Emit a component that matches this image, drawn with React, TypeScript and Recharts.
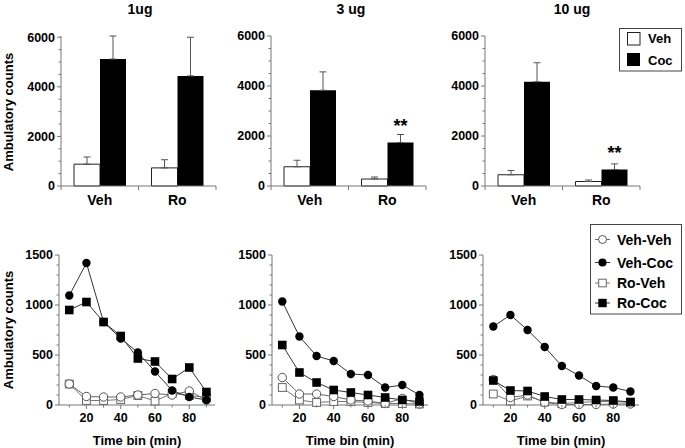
import { BarChart, Bar, XAxis, YAxis, ErrorBar, LabelList, LineChart, Line } from "recharts";

const FONT = '"Liberation Sans", Arial, Helvetica, sans-serif';

// top row: total ambulatory counts
const doses = ["1ug", "3 ug", "10 ug"];
const groups = ["Veh", "Ro"];
const vehMeans = [[880, 730], [770, 280], [450, 180]];
const vehSem = [[290, 330], [260, 80], [170, 60]];
const cocMeans = [[5120, 4440], [3830, 1740], [4170, 660]];
const cocSem = [[930, 1560], [735, 320], [760, 225]];
const cocSig = [["", ""], ["", "**"], ["", "**"]];
const barTicks = [0, 500, 1000, 1500, 2000, 2500, 3000, 3500, 4000, 4500, 5000, 5500, 6000];

// bottom row: time course
const timeBins = [10, 20, 30, 40, 50, 60, 70, 80, 90];
const vehVeh = [
  [210, 85, 80, 80, 100, 115, 100, 140, 50],
  [275, 110, 110, 85, 50, 40, 15, 65, 10],
  [255, 75, 100, 25, 5, 5, 5, 10, 10],
];
const vehCoc = [
  [1095, 1420, 830, 665, 525, 335, 145, 80, 50],
  [1035, 685, 490, 440, 310, 300, 175, 200, 100],
  [785, 900, 750, 580, 390, 295, 190, 175, 135],
];
const roVeh = [
  [210, 45, 45, 55, 95, 40, 115, 95, 75],
  [175, 50, 25, 35, 35, 25, 15, 15, 10],
  [110, 40, 90, 30, 15, 25, 35, 35, 25],
];
const roCoc = [
  [950, 1030, 830, 690, 465, 435, 260, 375, 130],
  [600, 325, 225, 150, 125, 100, 75, 50, 35],
  [245, 145, 140, 85, 55, 55, 50, 45, 30],
];
const lineTicks = [0, 100, 200, 300, 400, 500, 600, 700, 800, 900, 1000, 1100, 1200, 1300, 1400, 1500];

const topLeft = [0, 210, 424];
const bottomLeft = [0, 213, 424];
const titleX = [140, 351, 572];
const plotCenter = [137, 350, 561];

const AXIS = "#777";

const YTick = (props: any) => {
  const { x, y, payload, major } = props;
  const isMajor = payload.value % major === 0;
  return (
    <g>
      <line x1={x - (isMajor ? 4 : 2.5)} x2={x} y1={y} y2={y} stroke={AXIS} />
      {isMajor && (
        <text x={x - 6} y={y} dy="0.35em" textAnchor="end" fontSize={12.5} fontWeight="bold" fill="#000" fontFamily={FONT}>
          {payload.value}
        </text>
      )}
    </g>
  );
};

const GroupTick = (props: any) => {
  const { x, y, payload } = props;
  const half = payload.offset || 38.75;
  return (
    <g>
      <line x1={x - half} x2={x - half} y1={y} y2={y + 4} stroke={AXIS} />
      <line x1={x + half} x2={x + half} y1={y} y2={y + 4} stroke={AXIS} />
      <text x={x} y={y + 19} textAnchor="middle" fontSize={14} fontWeight="bold" fill="#000" fontFamily={FONT}>
        {payload.value}
      </text>
    </g>
  );
};

const TimeTick = (props: any) => {
  const { x, y, payload } = props;
  const isMajor = payload.value % 20 === 0;
  return (
    <g>
      <line x1={x} x2={x} y1={y} y2={y + (isMajor ? 4 : 2.5)} stroke={AXIS} />
      {isMajor && (
        <text x={x} y={y + 16.7} textAnchor="middle" fontSize={12.5} fontWeight="bold" fill="#000" fontFamily={FONT}>
          {payload.value}
        </text>
      )}
    </g>
  );
};

const SigLabel = (props: any) => {
  const { x, y, width, value } = props;
  if (!value) return null;
  return (
    <text x={x + width / 2} y={y - 11} textAnchor="middle" fontSize={18} fontWeight="bold" fill="#000" fontFamily={FONT}>
      {value}
    </text>
  );
};

const openCircle = (p: any) => <circle key={p.index} cx={p.cx} cy={p.cy} r={4.2} fill="#fff" stroke="#555" strokeWidth={1} />;
const fillCircle = (p: any) => <circle key={p.index} cx={p.cx} cy={p.cy} r={4.2} fill="#000" />;
const openSquare = (p: any) => <rect key={p.index} x={p.cx - 3.9} y={p.cy - 3.9} width={7.8} height={7.8} fill="#fff" stroke="#666" strokeWidth={1} />;
const fillSquare = (p: any) => <rect key={p.index} x={p.cx - 4.3} y={p.cy - 4.3} width={8.6} height={8.6} fill="#000" />;

const DosePanel = ({ d }: { d: number }) => {
  const data = groups.map((g, i) => ({
    group: g,
    veh: vehMeans[d][i],
    vehErr: [0, vehSem[d][i]],
    coc: cocMeans[d][i],
    cocErr: [0, cocSem[d][i]],
    sig: cocSig[d][i],
  }));
  return (
    <div style={{ position: "absolute", left: topLeft[d], top: 0 }}>
      <BarChart width={230} height={210} data={data} margin={{ top: 36, right: 14, bottom: 0, left: 0 }} barGap={0} barSize={26}>
        <XAxis dataKey="group" height={24} axisLine={{ stroke: AXIS }} tickLine={false} tickSize={0} tickMargin={0} interval={0} tick={(p: any) => <GroupTick {...p} />} />
        <YAxis width={61} domain={[0, 6000]} ticks={barTicks} interval={0} axisLine={{ stroke: AXIS }} tickLine={false} tickSize={0} tickMargin={0} tick={(p: any) => <YTick {...p} major={2000} />} />
        <Bar dataKey="veh" fill="#fff" stroke="#222" strokeWidth={1} isAnimationActive={false}>
          <ErrorBar dataKey="vehErr" direction="y" width={3.5} stroke="#555" strokeWidth={1} />
        </Bar>
        <Bar dataKey="coc" fill="#000" isAnimationActive={false}>
          <ErrorBar dataKey="cocErr" direction="y" width={3.5} stroke="#555" strokeWidth={1} />
          <LabelList dataKey="sig" content={SigLabel} />
        </Bar>
      </BarChart>
    </div>
  );
};

const TimePanel = ({ d }: { d: number }) => {
  const data = timeBins.map((t, i) => ({
    t,
    vehVeh: vehVeh[d][i],
    vehCoc: vehCoc[d][i],
    roVeh: roVeh[d][i],
    roCoc: roCoc[d][i],
  }));
  return (
    <div style={{ position: "absolute", left: bottomLeft[d], top: 210 }}>
      <LineChart width={230} height={238} data={data} margin={{ top: 45, right: 15, bottom: 0, left: 0 }}>
        <XAxis dataKey="t" type="number" domain={[4, 95]} ticks={timeBins} interval={0} height={43} allowDataOverflow axisLine={{ stroke: AXIS }} tickLine={false} tickSize={0} tickMargin={0} tick={(p: any) => <TimeTick {...p} />} />
        <YAxis width={59} domain={[0, 1500]} ticks={lineTicks} interval={0} axisLine={{ stroke: AXIS }} tickLine={false} tickSize={0} tickMargin={0} tick={(p: any) => <YTick {...p} major={500} />} />
        <Line dataKey="roVeh" stroke="#777" strokeWidth={1} dot={openSquare} isAnimationActive={false} />
        <Line dataKey="vehVeh" stroke="#666" strokeWidth={1} dot={openCircle} isAnimationActive={false} />
        <Line dataKey="vehCoc" stroke="#333" strokeWidth={1} dot={fillCircle} isAnimationActive={false} />
        <Line dataKey="roCoc" stroke="#333" strokeWidth={1} dot={fillSquare} isAnimationActive={false} />
      </LineChart>
    </div>
  );
};

const textStyle = { fontFamily: FONT, fontWeight: "bold" as const, fill: "#000" };

export default function App() {
  return (
    <div style={{ position: "absolute", left: 0, top: 0, width: 685, height: 448, background: "#fff", overflow: "hidden" }}>
      {doses.map((_, d) => (
        <DosePanel key={"b" + d} d={d} />
      ))}
      {doses.map((_, d) => (
        <TimePanel key={"l" + d} d={d} />
      ))}
      <svg width={685} height={448} style={{ position: "absolute", left: 0, top: 0, pointerEvents: "none" }}>
        {doses.map((t, d) => (
          <text key={t} x={titleX[d]} y={14} textAnchor="middle" fontSize={14} {...textStyle}>
            {t}
          </text>
        ))}
        {plotCenter.map((cx, d) => (
          <text key={"tb" + d} x={cx} y={445} textAnchor="middle" fontSize={13} {...textStyle}>
            Time bin (min)
          </text>
        ))}
        <text transform="translate(13,112) rotate(-90)" textAnchor="middle" fontSize={13} {...textStyle}>
          Ambulatory counts
        </text>
        <text transform="translate(13,330) rotate(-90)" textAnchor="middle" fontSize={13} {...textStyle}>
          Ambulatory counts
        </text>

        {/* bar legend */}
        <rect x={619.5} y={28.5} width={62} height={42.5} fill="#fff" stroke="#444" />
        <rect x={627.5} y={32.5} width={12.5} height={12.5} fill="#fff" stroke="#222" />
        <rect x={627} y={53} width={13} height={13} fill="#000" />
        <text x={648} y={43.2} fontSize={13} {...textStyle}>Veh</text>
        <text x={648} y={65.3} fontSize={13} {...textStyle}>Coc</text>

        {/* line legend */}
        <rect x={590.5} y={224.5} width={91} height={89.5} fill="#fff" stroke="#444" />
        <line x1={595} x2={610} y1={239.5} y2={239.5} stroke="#666" />
        <circle cx={602.5} cy={239.5} r={4} fill="#fff" stroke="#555" />
        <line x1={595} x2={610} y1={262.5} y2={262.5} stroke="#333" />
        <circle cx={602.5} cy={262.5} r={4.1} fill="#000" />
        <line x1={595} x2={610} y1={283} y2={283} stroke="#777" />
        <rect x={598.7} y={279.2} width={7.6} height={7.6} fill="#fff" stroke="#666" />
        <line x1={595} x2={610} y1={303} y2={303} stroke="#333" />
        <rect x={598.3} y={298.8} width={8.4} height={8.4} fill="#000" />
        <text x={617} y={244.5} fontSize={14} {...textStyle}>Veh-Veh</text>
        <text x={617} y={267.5} fontSize={14} {...textStyle}>Veh-Coc</text>
        <text x={617} y={288} fontSize={14} {...textStyle}>Ro-Veh</text>
        <text x={617} y={308} fontSize={14} {...textStyle}>Ro-Coc</text>
      </svg>
    </div>
  );
}
